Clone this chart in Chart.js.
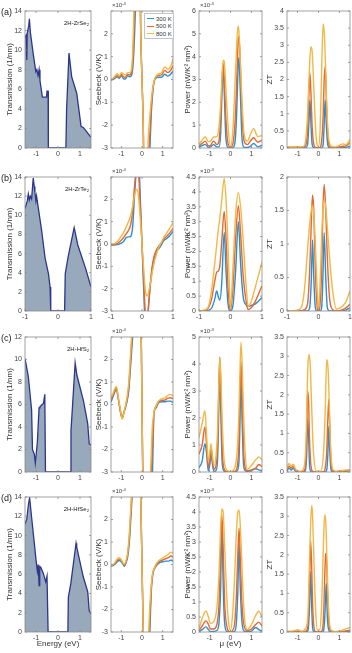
<!DOCTYPE html>
<html>
<head>
<meta charset="utf-8">
<script src="https://cdn.jsdelivr.net/npm/chart.js@4.4.1/dist/chart.umd.min.js"></script>
<style>
  body { margin: 0; background: #fff; }
  #fig { position: relative; width: 352px; height: 653px; overflow: hidden;
         font-family: "Liberation Sans", Arial, sans-serif; color: #333; }
  #fig canvas { position: absolute; }
  .lbl { position: absolute; white-space: nowrap; line-height: 1; }
  .lbl sup { font-size: 70%; vertical-align: 0.5em; line-height: 0; }
  .lbl sub { font-size: 70%; vertical-align: -0.25em; line-height: 0; }
  #legend { position: absolute; left: 144px; top: 13px; width: 28px; height: 23px;
            border: 1px solid #c4c4c4; background: #fff; font-size: 6px; padding-top: 1px; }
  #legend div { height: 7.5px; display: flex; align-items: center; }
  #legend i { display: inline-block; width: 7px; height: 1.4px; margin: 0 2px 0 2px; }
</style>
</head>
<body>
<div id="fig"></div>
<script>
// series names and colours
const temps = ['300 K', '500 K', '800 K'];
const tempColors = ['#2a8fd4', '#e6672f', '#f1b845'];
const materials = ['2H-ZrSe<sub>2</sub>', '2H-ZrTe<sub>2</sub>', '2H-HfS<sub>2</sub>', '2H-HfSe<sub>2</sub>'];
const panelTags = ['(a)', '(b)', '(c)', '(d)'];

// tick values
const eTicks = [-1, 0, 1];
const transTicks14 = [0, 2, 4, 6, 8, 10, 12, 14];
const transTicks12 = [0, 2, 4, 6, 8, 10, 12];
const seebeckTicks = [-3, -2, -1, 0, 1, 2, 3];
const powerTicksA = [0, 1, 2, 3, 4, 5, 6];
const powerTicksB = [0, 0.5, 1, 1.5, 2, 2.5, 3, 3.5, 4, 4.5];
const powerTicksC = [0, 1, 2, 3, 4, 5];
const ztTicksA = [0, 0.5, 1, 1.5, 2, 2.5, 3, 3.5, 4];
const ztTicksB = [0, 0.5, 1, 1.5, 2];
const ztTicksC = [0, 0.5, 1, 1.5, 2, 2.5, 3, 3.5];

// ---- (a) 2H-ZrSe2 ----
const transEA = [-1.5,-1.45,-1.42,-1.4,-1.33,-1.3,-1.26,-1.15,-1.01,-0.96,-0.91,-0.89,-0.86,-0.82,-0.71,-0.52,-0.5,-0.45,-0.44,0.36,0.39,0.5,0.62,0.85,1.05,1.15,1.5];
const transA  = [11.3,11.5,9.0,11.7,12.5,13.2,11.9,10.0,7.8,8.0,7.4,7.6,8.0,6.9,5.2,5.2,5.8,5.8,0,0,3.9,9.7,7.3,5.6,2.2,2.1,1.1];
const seeXA   = [-1.5,-1.35,-1.2,-1.1,-1.0,-0.9,-0.8,-0.7,-0.6,-0.5,-0.42,-0.35,-0.25,-0.12,-0.06,0,0.06,0.12,0.2,0.3,0.38,0.45,0.55,0.65,0.8,0.95,1.1,1.25,1.4,1.5];
const seeA300 = [-0.03,0.03,0.12,0.05,0.18,0.04,0.02,0.17,0.12,0.2,0.8,2.2,5,6,2,0,-2,-6,-6,-4.5,-3.1,-1.5,-0.33,0.04,0.1,0.1,0.23,0.15,0.25,0.37];
const seeA500 = [-0.02,0.06,0.18,0.1,0.24,0.12,0.1,0.22,0.2,0.35,1.3,3.2,5.5,6,2,0,-2,-6,-5.5,-3.5,-2.4,-1.2,-0.25,0.08,0.18,0.2,0.4,0.3,0.42,0.6];
const seeA800 = [-0.02,0.1,0.25,0.15,0.3,0.25,0.2,0.3,0.3,0.5,2.0,4.5,6,6,2,0,-2,-6,-5,-2.6,-1.6,-0.9,-0.2,0.1,0.25,0.3,0.55,0.45,0.6,0.9];
const powXA   = [-1.5,-1.35,-1.2,-1.05,-0.95,-0.8,-0.65,-0.55,-0.47,-0.4,-0.35,-0.3,-0.22,-0.12,0,0.12,0.22,0.3,0.36,0.4,0.46,0.55,0.65,0.8,0.95,1.1,1.3,1.5];
const powA300 = [0.05,0.1,0.16,0.03,0.05,0.15,0.05,0.05,0.6,2.6,3.56,2.5,0.45,0.02,0,0.02,0.3,1.7,3.5,3.97,2.7,0.4,0.03,0.02,0.08,0.2,0.05,0.12];
const powA500 = [0.1,0.2,0.3,0.1,0.12,0.3,0.15,0.3,1.3,3.0,3.7,3.1,1.3,0.2,0.02,0.2,1.2,3.0,4.6,4.88,3.9,1.5,0.3,0.15,0.3,0.45,0.25,0.35];
const powA800 = [0.15,0.35,0.48,0.28,0.3,0.48,0.5,0.9,1.9,3.2,3.85,3.8,2.6,1.0,0.05,0.9,2.9,4.6,5.34,5.1,4.0,2.0,0.6,0.3,0.6,0.85,0.5,0.55];
const ztXA    = [-1.5,-1.2,-0.9,-0.7,-0.6,-0.52,-0.46,-0.41,-0.36,-0.3,-0.22,-0.14,-0.07,0,0.08,0.15,0.22,0.27,0.32,0.37,0.44,0.52,0.65,0.8,1.0,1.15,1.3,1.5];
const ztA300  = [0.01,0.01,0.01,0.01,0.02,0.1,0.7,1.41,0.7,0.1,0.01,0,0,0,0,0,0.1,0.7,1.41,0.7,0.1,0.01,0,0,0.01,0.02,0.02,0.05];
const ztA500  = [0.02,0.02,0.02,0.03,0.1,0.5,1.5,2.2,1.6,0.6,0.1,0.02,0,0,0.02,0.2,0.9,2.0,2.39,1.5,0.4,0.05,0.01,0.01,0.03,0.05,0.06,0.15];
const ztA800  = [0.03,0.03,0.03,0.05,0.3,1.0,1.9,2.6,2.96,2.8,1.7,0.6,0.1,0.05,0.6,2.3,3.62,3.4,2.7,1.7,0.6,0.15,0.05,0.03,0.08,0.12,0.1,0.25];

// ---- (b) 2H-ZrTe2 ----
const transEB = [-1,-0.93,-0.9,-0.87,-0.84,-0.8,-0.75,-0.72,-0.7,-0.67,-0.65,-0.5,-0.39,-0.29,-0.24,-0.22,0.2,0.22,0.31,0.49,0.6,0.85,1];
const transB  = [10.7,11.5,12.2,11.6,12.0,11.7,13.9,13.0,12.4,11.5,12.0,8.5,5.5,3.9,2.5,0,0,3.9,5.7,8.7,6.9,4.3,2.5];
const seeXB   = [-1,-0.9,-0.8,-0.7,-0.6,-0.5,-0.42,-0.36,-0.3,-0.24,-0.17,-0.12,-0.08,-0.04,0,0.04,0.08,0.12,0.17,0.22,0.28,0.34,0.4,0.47,0.54,0.62,0.7,0.8,0.9,1];
const seeB300 = [-0.05,-0.05,-0.03,0.02,0.1,0.3,0.32,0.35,0.8,2.2,3.6,4.5,3.0,1.5,0,-1.5,-3.0,-4.5,-3.6,-2.6,-1.7,-1.0,-0.6,-0.3,-0.22,-0.05,0.15,0.25,0.38,0.56];
const seeB500 = [-0.03,-0.02,0.02,0.12,0.28,0.48,0.65,0.9,1.5,2.6,3.4,3.3,2.4,1.2,0,-1.2,-2.4,-3.3,-3.4,-2.6,-1.6,-0.9,-0.5,-0.25,-0.1,0.05,0.22,0.35,0.5,0.7];
const seeB800 = [0,0.02,0.1,0.3,0.5,0.8,1.05,1.3,1.7,2.2,2.45,2.2,1.6,0.8,0,-0.8,-1.6,-2.2,-2.33,-2.1,-1.7,-1.2,-0.8,-0.45,-0.15,0.05,0.3,0.5,0.72,0.95];
const powXB   = [-1,-0.8,-0.7,-0.6,-0.5,-0.44,-0.38,-0.34,-0.28,-0.2,-0.14,-0.08,0,0.08,0.16,0.25,0.32,0.4,0.5,0.56,0.65,0.8,1];
const powB300 = [0,0,0.02,0.1,0.4,0.67,0.45,0.37,0.9,2.64,1.3,0.25,0,0.2,1.3,3.0,1.6,0.5,0.2,0.15,0.18,0.25,0.45];
const powB500 = [0,0.02,0.1,0.4,1.0,1.3,1.35,1.5,2.3,3.34,2.4,0.8,0.02,0.8,2.4,3.54,2.6,1.2,0.3,0.05,0.1,0.35,0.85];
const powB800 = [0,0.05,0.15,0.7,1.6,2.2,2.8,3.1,3.7,4.45,3.7,2.2,0.1,1.5,3.2,3.98,3.5,2.4,0.8,0.15,0.3,0.85,1.65];
const ztXB    = [-1,-0.7,-0.55,-0.45,-0.35,-0.28,-0.23,-0.19,-0.15,-0.1,-0.05,0,0.05,0.1,0.14,0.18,0.23,0.28,0.35,0.45,0.57,0.7,0.85,1];
const ztB300  = [0,0,0,0,0,0.05,0.45,1.06,0.5,0.05,0,0,0,0.05,0.5,1.17,0.5,0.05,0,0,0,0,0.01,0.05];
const ztB500  = [0,0,0,0.02,0.1,0.6,1.3,1.73,1.5,0.6,0.1,0,0.1,0.6,1.5,1.89,1.5,0.8,0.2,0.02,0,0.01,0.04,0.1];
const ztB800  = [0,0.01,0.05,0.3,0.9,1.3,1.5,1.57,1.45,1.0,0.4,0.02,0.4,1.1,1.5,1.66,1.55,1.25,0.8,0.3,0.03,0.05,0.12,0.3];

// ---- (c) 2H-HfS2 ----
const transEC = [-1.5,-1.35,-1.2,-1.16,-1.08,-1.03,-0.94,-0.86,-0.82,-0.72,-0.66,-0.6,-0.57,0.55,0.59,0.63,0.78,0.86,1.16,1.35,1.42,1.5];
const transC  = [10.1,8.5,5.5,2.0,1.6,0.8,2.6,5.7,5.8,6.0,6.1,6.9,0,0,3.7,4.9,9.7,8.6,6.3,4.3,2.5,2.4];
const seeXC   = [-1.5,-1.4,-1.32,-1.24,-1.15,-1.05,-0.96,-0.88,-0.8,-0.72,-0.64,-0.56,-0.5,-0.44,-0.35,-0.2,-0.08,-0.03,0,0.03,0.08,0.2,0.35,0.42,0.5,0.58,0.68,0.8,0.95,1.1,1.25,1.38,1.5];
const seeC300 = [0.1,0.35,0.55,0.68,0.25,-0.3,-0.6,-0.35,-0.15,0.15,0.6,1.6,2.4,3.2,5,7,5,2.5,0,-2.5,-5,-7,-5.5,-4.5,-3.3,-0.4,-0.15,0.08,0.12,0.12,0.15,0.15,0.1];
const seeC500 = [0.2,0.42,0.62,0.75,0.3,-0.25,-0.62,-0.38,-0.1,0.25,0.8,1.9,2.8,3.8,5.5,7,5,2.5,0,-2.5,-5,-7,-5,-3.6,-2.0,-0.38,-0.1,0.12,0.18,0.2,0.28,0.3,0.25];
const seeC800 = [0.3,0.5,0.7,0.8,0.35,-0.2,-0.65,-0.4,-0.05,0.35,1.0,2.2,3.1,4.5,6,7,5,2.5,0,-2.5,-5,-7,-4.5,-2.8,-1.0,-0.35,-0.05,0.15,0.25,0.3,0.4,0.45,0.38];
const powXC   = [-1.5,-1.35,-1.22,-1.14,-1.06,-0.98,-0.93,-0.86,-0.79,-0.7,-0.62,-0.56,-0.51,-0.46,-0.4,-0.32,-0.2,0,0.2,0.32,0.4,0.45,0.5,0.56,0.62,0.7,0.8,1.0,1.2,1.35,1.5];
const powC300 = [0.16,0.4,1.05,0.7,0.04,0.3,0.68,0.3,0.02,0.05,0.4,2.2,4.19,2.2,0.4,0.05,0,0,0,0.05,0.35,1.8,3.45,1.7,0.3,0.05,0.02,0.05,0.12,0.08,0.05];
const powC500 = [0.66,1.0,1.67,1.0,0.16,0.5,0.9,0.45,0.1,0.2,0.9,2.9,4.25,3.0,1.0,0.15,0.02,0,0.02,0.2,1.0,2.7,4.1,2.8,0.9,0.15,0.05,0.08,0.15,0.28,0.2];
const powC800 = [1.28,1.8,2.27,1.4,0.41,0.75,1.05,0.6,0.25,0.5,1.5,3.2,4.25,3.6,2.0,0.6,0.1,0.02,0.15,0.8,2.2,3.7,4.81,3.9,2.2,0.7,0.1,0.25,0.45,0.56,0.45];
const ztXC    = [-1.5,-1.4,-1.3,-1.2,-1.1,-1.0,-0.85,-0.7,-0.62,-0.56,-0.52,-0.47,-0.43,-0.38,-0.32,-0.25,-0.1,0.1,0.25,0.32,0.39,0.44,0.49,0.54,0.6,0.7,0.85,1.1,1.3,1.5];
const ztC300  = [0.02,0.1,0.05,0.1,0.02,0.01,0,0,0.05,0.5,1.38,0.9,0.2,0.03,0,0,0,0,0,0,0.05,0.4,1.18,0.5,0.05,0,0,0.01,0.02,0.03];
const ztC500  = [0.05,0.15,0.1,0.15,0.05,0.02,0.01,0.02,0.2,1.0,2.11,1.8,0.9,0.3,0.05,0.01,0,0,0.01,0.1,0.5,1.3,1.88,1.1,0.2,0.02,0,0.02,0.03,0.05];
const ztC800  = [0.1,0.22,0.15,0.2,0.08,0.03,0.02,0.1,0.5,1.5,2.5,3.0,3.04,2.6,1.6,0.6,0.02,0.02,0.6,1.6,2.91,2.8,2.2,1.2,0.4,0.05,0.02,0.04,0.05,0.06];

// ---- (d) 2H-HfSe2 ----
const transED = [-1.5,-1.42,-1.34,-1.29,-1.2,-1.0,-0.94,-0.9,-0.86,-0.83,-0.78,-0.67,-0.56,-0.5,-0.45,0.45,0.47,0.58,0.82,0.85,1.15,1.35,1.42,1.5];
const transD  = [11.2,11.7,13.3,13.9,11.9,7.5,6.3,7.0,4.8,6.8,6.7,6.1,5.2,5.8,0,0,3.6,5.0,9.2,8.8,5.7,4.2,2.2,1.9];
const seeXD   = [-1.5,-1.4,-1.3,-1.2,-1.1,-1.0,-0.9,-0.85,-0.78,-0.7,-0.62,-0.55,-0.48,-0.4,-0.25,-0.1,-0.04,0,0.04,0.1,0.25,0.32,0.38,0.45,0.52,0.6,0.7,0.85,1.0,1.15,1.3,1.4,1.5];
const seeD300 = [-0.08,-0.05,0.02,0.12,0.18,0.12,-0.02,-0.08,0.05,0.3,0.9,1.9,3.0,4.5,6,4.5,2,0,-2,-4.5,-6,-4.5,-3.0,-1.2,-0.45,-0.2,-0.05,0.08,0.12,0.15,0.15,0.2,0.15];
const seeD500 = [-0.06,-0.02,0.06,0.18,0.24,0.17,0.02,-0.03,0.1,0.4,1.1,2.2,3.3,4.8,6,4.5,2,0,-2,-4.5,-5.5,-3.8,-2.4,-1.0,-0.4,-0.18,0,0.14,0.2,0.26,0.32,0.38,0.32];
const seeD800 = [-0.05,0,0.1,0.25,0.3,0.22,0.05,0.02,0.15,0.5,1.3,2.4,3.5,5,6,4.5,2,0,-2,-4.5,-5,-3.1,-1.8,-0.9,-0.35,-0.15,0.05,0.2,0.3,0.38,0.48,0.55,0.5];
const powXD   = [-1.5,-1.35,-1.17,-1.05,-0.95,-0.8,-0.65,-0.55,-0.47,-0.41,-0.35,-0.28,-0.18,-0.08,0,0.1,0.2,0.28,0.35,0.41,0.47,0.55,0.65,0.8,1.0,1.2,1.35,1.5];
const powD300 = [0.02,0.08,0.17,0.08,0.01,0.02,0.05,0.3,1.5,3.68,1.6,0.3,0.02,0,0,0,0.02,0.3,1.4,2.96,1.4,0.3,0.03,0.01,0.03,0.15,0.08,0.03];
const powD500 = [0.05,0.2,0.37,0.25,0.1,0.1,0.25,0.9,2.6,3.9,2.8,1.0,0.2,0.02,0,0.05,0.3,1.2,2.6,3.46,2.4,0.9,0.2,0.05,0.1,0.25,0.33,0.2];
const powD800 = [0.1,0.45,0.7,0.5,0.28,0.35,0.8,1.9,3.5,4.1,4.0,2.9,1.2,0.25,0.05,0.6,1.9,3.3,4.0,4.07,3.5,2.1,0.6,0.08,0.25,0.55,0.69,0.5];
const ztXD    = [-1.5,-1.2,-1.0,-0.8,-0.6,-0.5,-0.43,-0.37,-0.32,-0.28,-0.22,-0.14,-0.05,0.05,0.14,0.22,0.26,0.3,0.34,0.37,0.42,0.5,0.6,0.8,1.1,1.3,1.5];
const ztD300  = [0,0,0,0,0,0.05,0.6,1.56,0.6,0.1,0.01,0,0,0,0,0.01,0.1,0.4,0.9,1.26,0.4,0.03,0,0,0,0.01,0.02];
const ztD500  = [0.01,0.01,0.01,0,0.02,0.2,1.2,2.35,1.6,0.7,0.15,0.01,0,0,0.02,0.2,0.7,1.5,2.0,2.04,1.2,0.2,0.02,0,0.01,0.03,0.05];
const ztD800  = [0.02,0.03,0.06,0.02,0.1,0.5,1.8,2.9,3.28,3.0,1.9,0.6,0.05,0.05,0.6,2.0,2.7,3.04,2.9,2.5,1.5,0.4,0.05,0.01,0.04,0.08,0.12];

// ---- layout (pixel boxes of the plot areas) ----
const colX = [[25, 91], [111, 173], [199, 262], [287, 350]];
const rowY = [[11, 148], [177, 311], [337, 472], [497, 632]];
const yAxisW = [20, 17, 16, 22];
const yTitles = ['Transmission (1/nm)', 'Seebeck (V/K)', 'Power (nW/K\u00b2 nm\u00b2)', 'ZT'];

Chart.defaults.font.family = '"Liberation Sans", Arial, sans-serif';
Chart.defaults.color = '#444';

const fig = document.getElementById('fig');

// MATLAB-like box with inward ticks on all four sides
const boxPlugin = {
  id: 'box',
  afterDraw(chart) {
    const { ctx, chartArea: a, scales } = chart;
    ctx.save();
    ctx.strokeStyle = '#8a8a8a';
    ctx.lineWidth = 0.8;
    ctx.strokeRect(a.left, a.top, a.right - a.left, a.bottom - a.top);
    ctx.beginPath();
    scales.x.ticks.forEach(t => {
      const px = scales.x.getPixelForValue(t.value);
      ctx.moveTo(px, a.bottom); ctx.lineTo(px, a.bottom - 2);
      ctx.moveTo(px, a.top); ctx.lineTo(px, a.top + 2);
    });
    scales.y.ticks.forEach(t => {
      const py = scales.y.getPixelForValue(t.value);
      ctx.moveTo(a.left, py); ctx.lineTo(a.left + 2, py);
      ctx.moveTo(a.right, py); ctx.lineTo(a.right - 2, py);
    });
    ctx.stroke();
    ctx.restore();
  }
};

function pts(xs, ys) {
  return xs.map((x, i) => ({ x: x, y: ys[i] }));
}

function tempSets(xs, y300, y500, y800) {
  return [y300, y500, y800].map((ys, i) => ({
    label: temps[i],
    data: pts(xs, ys),
    borderColor: tempColors[i],
    borderWidth: 1.4,
    pointRadius: 0,
    cubicInterpolationMode: 'monotone',
    fill: false,
    order: 2 - i
  }));
}

function transSet(xs, ys) {
  return [{
    data: pts(xs, ys),
    borderColor: '#2c378c',
    backgroundColor: '#98a9bc',
    borderWidth: 1.3,
    pointRadius: 0,
    tension: 0,
    fill: 'origin'
  }];
}

function panel(col, row, p) {
  const [L, R] = colX[col];
  const [T, B] = rowY[row];
  const yw = yAxisW[col];
  const padTop = 4, padRight = 3;
  const xh = p.xTitle ? 17 : 12;
  const w = yw + (R - L) + padRight;
  const h = padTop + (B - T) + xh;
  const cv = document.createElement('canvas');
  cv.width = w; cv.height = h;
  cv.style.left = (L - yw) + 'px';
  cv.style.top = (T - padTop) + 'px';
  cv.style.width = w + 'px';
  cv.style.height = h + 'px';
  fig.appendChild(cv);

  new Chart(cv, {
    type: 'line',
    data: { datasets: p.datasets },
    options: {
      responsive: false,
      animation: false,
      devicePixelRatio: 1,
      layout: { padding: { top: padTop, right: padRight, left: 0, bottom: 0 } },
      plugins: { legend: { display: false }, tooltip: { enabled: false } },
      scales: {
        x: {
          type: 'linear',
          min: p.xmin, max: p.xmax,
          afterBuildTicks: s => { s.ticks = eTicks.map(v => ({ value: v })); },
          afterFit: s => { s.height = xh; s.paddingLeft = 0; s.paddingRight = 0; },
          ticks: { font: { size: 7 }, padding: 2, maxRotation: 0, autoSkip: false,
                   callback: v => String(v) },
          grid: { display: false, drawTicks: false },
          border: { display: false },
          title: { display: !!p.xTitle, text: p.xTitle || '', font: { size: 8 },
                   color: '#333', padding: 0 }
        },
        y: {
          min: p.yTicks[0], max: p.yTicks[p.yTicks.length - 1],
          afterBuildTicks: s => { s.ticks = p.yTicks.map(v => ({ value: v })); },
          afterFit: s => { s.width = yw; s.paddingTop = 0; s.paddingBottom = 0; },
          ticks: { font: { size: 7 }, padding: 3, autoSkip: false,
                   callback: v => (p.hideTop && v === p.yTicks[p.yTicks.length - 1]) ? '' : String(v) },
          grid: { display: false, drawTicks: false },
          border: { display: false },
          title: { display: true, text: yTitles[col], font: { size: 8 }, color: '#333', padding: 0 }
        }
      }
    },
    plugins: [boxPlugin]
  });
}

function label(html, left, top, size, extra) {
  const d = document.createElement('div');
  d.className = 'lbl';
  d.innerHTML = html;
  d.style.left = left + 'px';
  d.style.top = top + 'px';
  d.style.fontSize = size + 'px';
  if (extra) Object.assign(d.style, extra);
  fig.appendChild(d);
}

const rowsData = [
  { xmin: -1.5, xmax: 1.5, tE: transEA, t: transA, tTicks: transTicks14,
    sx: seeXA, s: [seeA300, seeA500, seeA800],
    px: powXA, pw: [powA300, powA500, powA800], pTicks: powerTicksA,
    zx: ztXA, z: [ztA300, ztA500, ztA800], zTicks: ztTicksA },
  { xmin: -1, xmax: 1, tE: transEB, t: transB, tTicks: transTicks14,
    sx: seeXB, s: [seeB300, seeB500, seeB800],
    px: powXB, pw: [powB300, powB500, powB800], pTicks: powerTicksB,
    zx: ztXB, z: [ztB300, ztB500, ztB800], zTicks: ztTicksB },
  { xmin: -1.5, xmax: 1.5, tE: transEC, t: transC, tTicks: transTicks12,
    sx: seeXC, s: [seeC300, seeC500, seeC800],
    px: powXC, pw: [powC300, powC500, powC800], pTicks: powerTicksC,
    zx: ztXC, z: [ztC300, ztC500, ztC800], zTicks: ztTicksC },
  { xmin: -1.5, xmax: 1.5, tE: transED, t: transD, tTicks: transTicks14,
    sx: seeXD, s: [seeD300, seeD500, seeD800],
    px: powXD, pw: [powD300, powD500, powD800], pTicks: powerTicksB,
    zx: ztXD, z: [ztD300, ztD500, ztD800], zTicks: ztTicksC }
];

rowsData.forEach((r, row) => {
  const last = row === 3;
  panel(0, row, { xmin: r.xmin, xmax: r.xmax, yTicks: r.tTicks,
                  datasets: transSet(r.tE, r.t), xTitle: last ? 'Energy (eV)' : null });
  panel(1, row, { xmin: r.xmin, xmax: r.xmax, yTicks: seebeckTicks, hideTop: true,
                  datasets: tempSets(r.sx, ...r.s) });
  panel(2, row, { xmin: r.xmin, xmax: r.xmax, yTicks: r.pTicks,
                  datasets: tempSets(r.px, ...r.pw), xTitle: last ? '\u03bc (eV)' : null });
  panel(3, row, { xmin: r.xmin, xmax: r.xmax, yTicks: r.zTicks,
                  datasets: tempSets(r.zx, ...r.z) });

  const top = rowY[row][0];
  label(panelTags[row], 1, top - 3, 9, { color: '#222' });
  label(materials[row], 0, top + 9, 6, { left: 'auto', right: (352 - 89) + 'px', color: '#222' });
  label('\u00d710<sup>-4</sup>', colX[1][0] + 1, top - 9, 6, { color: '#444' });
  label('\u00d710<sup>-3</sup>', colX[2][0] + 1, top - 9, 6, { color: '#444' });
});

// legend of the first Seebeck panel
const lg = document.createElement('div');
lg.id = 'legend';
temps.forEach((t, i) => {
  const it = document.createElement('div');
  it.innerHTML = '<i style="background:' + tempColors[i] + '"></i>' + t;
  lg.appendChild(it);
});
fig.appendChild(lg);
</script>
</body>
</html>
